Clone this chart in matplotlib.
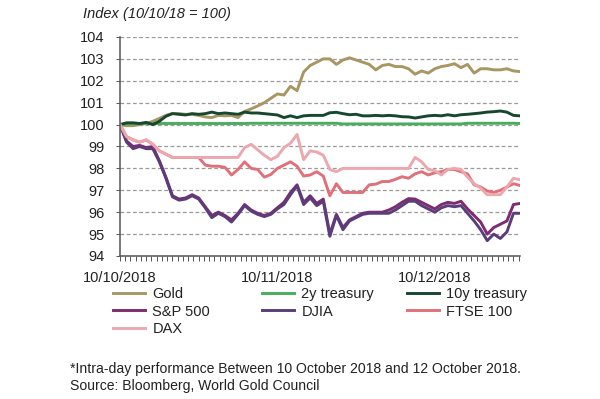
import matplotlib
matplotlib.use('Agg')
import matplotlib.pyplot as plt
from matplotlib.ticker import MultipleLocator

plt.rcParams['font.family'] = ['Liberation Sans', 'DejaVu Sans']

# hours since market open on 10/10/2018, one reading per hour
hours = list(range(62))

gold = [100.0, 99.95, 99.95, 100.0, 100.05, 100.15, 100.28, 100.42, 100.51, 100.5,
        100.47, 100.47, 100.42, 100.35, 100.32, 100.42, 100.4, 100.42, 100.32, 100.6,
        100.72, 100.85, 101.0, 101.2, 101.4, 101.35, 101.75, 101.55, 102.4, 102.7,
        102.85, 103.0, 103.0, 102.75, 102.95, 103.05, 102.95, 102.85, 102.75, 102.5,
        102.7, 102.75, 102.65, 102.65, 102.55, 102.3, 102.45, 102.35, 102.55, 102.65,
        102.7, 102.78, 102.6, 102.75, 102.35, 102.55, 102.55, 102.5, 102.5, 102.55,
        102.45, 102.42]

treasury_2y = [100.0, 100.03, 100.04, 100.05, 100.05, 100.05, 100.05, 100.05, 100.05, 100.05,
               100.05, 100.05, 100.05, 100.05, 100.05, 100.05, 100.05, 100.05, 100.05, 100.05,
               100.06, 100.06, 100.06, 100.06, 100.06, 100.06, 100.06, 100.06, 100.06, 100.06,
               100.06, 100.06, 100.06, 100.06, 100.03, 100.03, 100.03, 100.03, 100.03, 100.03,
               100.03, 100.03, 100.03, 100.03, 100.03, 100.03, 100.03, 100.03, 100.03, 100.03,
               100.03, 100.03, 100.03, 100.06, 100.06, 100.06, 100.06, 100.06, 100.06, 100.06,
               100.06, 100.05]

treasury_10y = [100.0, 100.08, 100.08, 100.05, 100.1, 100.0, 100.15, 100.38, 100.5, 100.47,
                100.44, 100.5, 100.47, 100.5, 100.57, 100.5, 100.53, 100.5, 100.47, 100.57,
                100.53, 100.53, 100.5, 100.47, 100.44, 100.32, 100.4, 100.32, 100.4, 100.42,
                100.42, 100.42, 100.54, 100.56, 100.5, 100.45, 100.47, 100.4, 100.4, 100.42,
                100.4, 100.42, 100.4, 100.36, 100.35, 100.3, 100.35, 100.4, 100.42, 100.4,
                100.45, 100.4, 100.45, 100.47, 100.5, 100.53, 100.57, 100.59, 100.62, 100.57,
                100.42, 100.4]

sp500 = [100.0, 99.25, 99.0, 99.05, 98.95, 99.0, 98.35, 97.6, 96.75, 96.6,
         96.65, 96.8, 96.65, 96.25, 95.85, 96.0, 95.85, 95.65, 95.95, 96.35,
         96.1, 95.95, 95.85, 95.95, 96.2, 96.45, 96.9, 97.25, 96.45, 96.75,
         96.4, 96.6, 95.0, 95.9, 95.3, 95.65, 95.8, 95.95, 96.0, 96.0,
         96.0, 96.1, 96.25, 96.45, 96.62, 96.6, 96.45, 96.3, 96.15, 96.35,
         96.45, 96.4, 96.5, 96.15, 95.85, 95.55, 95.0, 95.3, 95.45, 95.6,
         96.35, 96.4]

djia = [100.0, 99.2, 98.9, 99.0, 98.9, 98.9, 98.3, 97.55, 96.7, 96.55,
        96.6, 96.75, 96.6, 96.2, 95.75, 95.95, 95.8, 95.55, 95.9, 96.3,
        96.05, 95.9, 95.8, 95.9, 96.15, 96.35, 96.8, 97.2, 96.35, 96.65,
        96.3, 96.5, 94.9, 95.85, 95.2, 95.6, 95.75, 95.9, 95.95, 95.95,
        95.95, 95.95, 96.1, 96.3, 96.5, 96.5, 96.3, 96.15, 96.0, 96.2,
        96.3, 96.25, 96.3, 95.95, 95.6, 95.2, 94.7, 95.0, 94.8, 95.1,
        95.95, 95.95]

ftse = [100.0, 99.45, 99.3, 99.2, 99.3, 99.1, 98.8, 98.65, 98.5, 98.5,
        98.5, 98.5, 98.5, 98.15, 98.1, 98.1, 98.05, 97.7, 97.95, 98.3,
        98.0, 97.95, 97.6, 97.72, 98.0, 98.15, 98.3, 98.1, 97.65, 97.7,
        97.85, 97.65, 96.75, 97.3, 96.9, 96.9, 96.9, 96.9, 97.25, 97.28,
        97.4, 97.4, 97.5, 97.62, 97.55, 97.75, 97.85, 97.7, 97.8, 97.85,
        97.95, 97.95, 97.85, 97.75, 97.25, 97.15, 96.97, 96.9, 97.0, 97.15,
        97.3, 97.22]

dax = [100.0, 99.45, 99.3, 99.2, 99.3, 99.1, 98.8, 98.65, 98.5, 98.5,
       98.5, 98.5, 98.5, 98.5, 98.5, 98.5, 98.5, 98.5, 98.5, 98.95,
       99.1, 98.85, 98.6, 98.4, 98.55, 98.95, 99.15, 99.55, 98.4, 98.8,
       98.75, 98.6, 97.95, 97.85, 98.0, 98.0, 98.0, 98.0, 98.0, 98.0,
       98.0, 98.0, 98.0, 98.0, 98.0, 98.5, 98.3, 97.95, 97.9, 97.7,
       97.95, 98.0, 97.95, 97.6, 97.3, 97.1, 96.8, 96.8, 96.8, 97.15,
       97.55, 97.48]

day_ticks = [0, 24, 48]
day_labels = ['10/10/2018', '10/11/2018', '10/12/2018']

series = [
    ('Gold', gold, '#A89663'),
    ('2y treasury', treasury_2y, '#48AE5E'),
    ('10y treasury', treasury_10y, '#17472F'),
    ('S&P 500', sp500, '#7E2B6F'),
    ('DJIA', djia, '#5B3D79'),
    ('FTSE 100', ftse, '#E07079'),
    ('DAX', dax, '#EBA8AF'),
]

fig = plt.figure(figsize=(6, 3.99), dpi=100)
ax = fig.add_axes([0.2, 0.3584, 0.6667, 0.5489])

lines = {}
for name, vals, col in series:
    ln, = ax.plot(hours, vals, color=col, lw=2.1, label=name, solid_joinstyle='round')
    lines[name] = ln

ax.set_xlim(0, 61)
ax.set_ylim(94, 104)
ax.set_yticks(range(94, 105))
ax.grid(axis='y', color='#9a9a9a', lw=0.9, ls=(0, (3, 2)), zorder=0)
ax.set_axisbelow(True)

for s in ['top', 'right']:
    ax.spines[s].set_visible(False)
for s in ['left', 'bottom']:
    ax.spines[s].set_color('#555555')
    ax.spines[s].set_linewidth(1.1)

ax.set_xticks(day_ticks)
ax.set_xticklabels(day_labels)
ax.xaxis.set_minor_locator(MultipleLocator(0.8))
ax.tick_params(axis='x', which='both', length=3.5, width=0.7, color='#555555')
ax.tick_params(axis='x', which='major', pad=7, labelsize=10.5, labelcolor='#222222')
ax.tick_params(axis='y', length=3, width=0.7, color='#555555', pad=8,
               labelsize=10.5, labelcolor='#222222')

fig.text(83 / 600, 1 - 14 / 399, 'Index (10/10/18 = 100)', style='italic',
         fontsize=10.5, va='center', color='#222222')

# legend laid out in three columns like the original
columns = [(['Gold', 'S&P 500', 'DAX'], 113),
           (['2y treasury', 'DJIA'], 262),
           (['10y treasury', 'FTSE 100'], 407)]
for names, xpx in columns:
    leg = fig.legend([lines[n] for n in names], names, loc='upper left',
                     bbox_to_anchor=(xpx / 600, 1 - 287 / 399), frameon=False,
                     fontsize=10.5, handlelength=2.2, handletextpad=0.5,
                     labelspacing=0.24, borderpad=0, borderaxespad=0)
    for t in leg.get_texts():
        t.set_color('#222222')

fig.text(70 / 600, 1 - 369 / 399,
         '*Intra-day performance Between 10 October 2018 and 12 October 2018.',
         fontsize=10.1, va='center', color='#222222')
fig.text(70 / 600, 1 - 386 / 399, 'Source: Bloomberg, World Gold Council',
         fontsize=10.1, va='center', color='#222222')

fig.savefig('out.png', dpi=100)
